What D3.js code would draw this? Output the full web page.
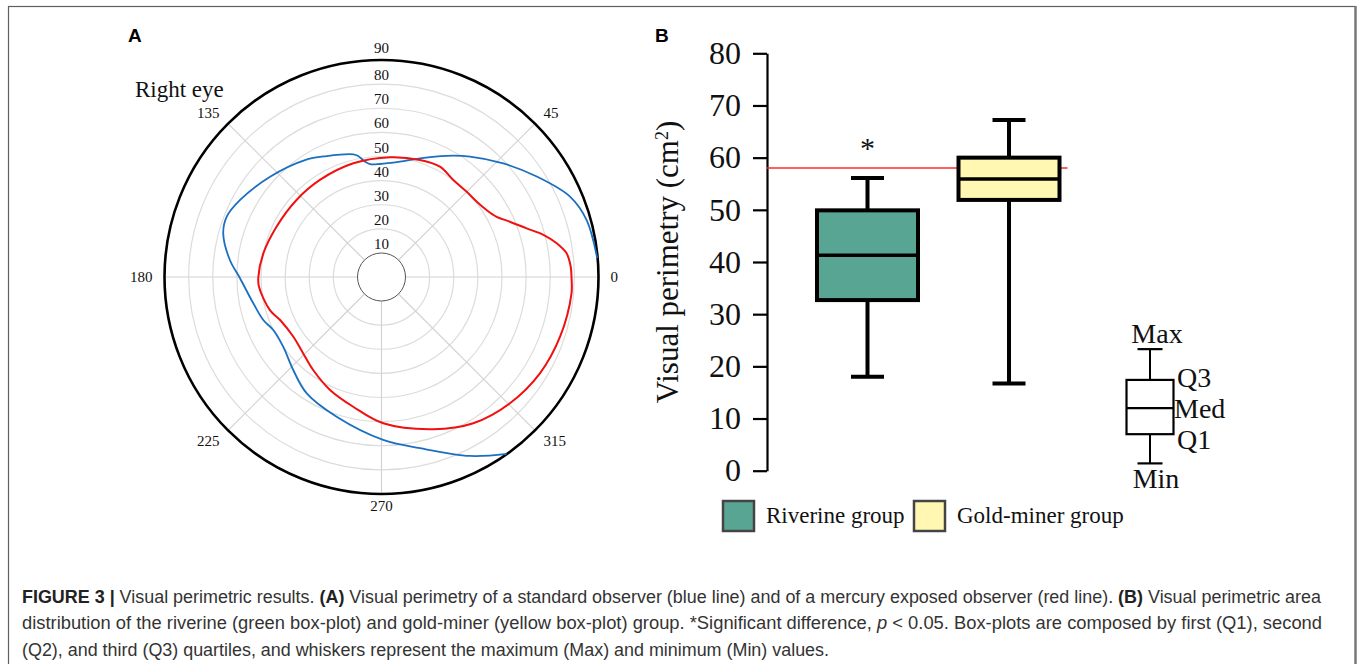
<!DOCTYPE html>
<html>
<head>
<meta charset="utf-8">
<script src="https://cdn.jsdelivr.net/npm/d3@7"></script>
<style>
  html, body { margin: 0; padding: 0; background: #ffffff; }
  svg { display: block; }
</style>
</head>
<body>
<svg id="chart" width="1360" height="664"></svg>
<script>
// ---------------- DATA ----------------
// Panel A: polar perimetry (angle in degrees, counter-clockwise from right; value on radial scale)
const redAngles = [0, 3.1, 7.3, 10.9, 14.6, 18.5, 23.3, 27.6, 32.5, 38.3, 45, 53.5, 62.1, 71.8, 85.9, 103.9, 122.4, 137.8, 154.4, 168.7, 180, 184.6, 196.5, 203, 214, 224.3, 233.7, 245.5, 257.7, 270.7, 288.8, 302.1, 315.5, 328.7, 341.5, 355];
const redValues = [78.8, 78.6, 77.4, 74.0, 69.4, 63.5, 58.0, 53.9, 51.7, 50.4, 50.0, 50.1, 51.8, 51.1, 49.8, 48.6, 47.7, 47.6, 48.3, 50.0, 51.1, 51.0, 48.3, 45.7, 44.2, 45.4, 47.9, 51.5, 55.1, 60.7, 66.7, 71.6, 74.7, 76.9, 78.1, 79.1];
const blueAngles = [5, 15.5, 23.1, 32.9, 43, 53.7, 61.7, 72, 80.9, 90.8, 95.8, 98.1, 100.9, 102.9, 114.4, 123.2, 138, 151.4, 158.7, 164.6, 173.6, 180.5, 191.6, 200, 206.1, 215.4, 226.5, 237.3, 252.2, 270.6, 282.7, 296.3, 305.3];
const blueValues = [89.8, 88.3, 85.0, 76.7, 69.1, 62.0, 57.1, 51.8, 48.5, 46.9, 47.1, 48.3, 51.1, 52.2, 55.1, 58.0, 62.2, 66.8, 68.9, 68.1, 63.3, 58.7, 54.3, 52.2, 50.0, 50.0, 53.2, 57.4, 60.9, 67.6, 72.8, 82.8, 89.9];
const radialTicks = [10, 20, 30, 40, 50, 60, 70, 80];
const gridValues = [20, 30, 40, 50, 60, 70, 80];
const angleTicks = [0, 45, 90, 135, 180, 225, 270, 315];
const spokeAngles = [0, 45, 135, 180, 225, 270, 315];

// Panel B: box plots
const groups = ["Riverine group", "Gold-miner group"];
const boxMin = [18.0, 16.7];
const boxQ1 = [32.7, 51.9];
const boxMed = [41.3, 55.9];
const boxQ3 = [49.9, 60.0];
const boxMax = [56.1, 67.2];
const boxColors = ["#58a594", "#fff7b2"];
const refValue = 58;
const sigMark = ["*", ""];
const yTicks = [0, 10, 20, 30, 40, 50, 60, 70, 80];
const keyStats = [1.4, 7.0, 12.0, 17.4, 23.3];
const keyLabels = ["Min", "Q1", "Med", "Q3", "Max"];

// ---------------- DRAW ----------------
const svg = d3.select("#chart");
const serif = "'Liberation Serif', 'Times New Roman', serif";
const sans = "'Liberation Sans', Arial, sans-serif";

// frame
svg.append("rect").attr("x", 8.5).attr("y", 6.5).attr("width", 1347).attr("height", 720)
  .attr("fill", "#ffffff").attr("stroke", "#5f5f5f").attr("stroke-width", 1.2);
svg.append("line").attr("x1", 1355.5).attr("x2", 1355.5).attr("y1", 6).attr("y2", 664)
  .attr("stroke", "#777").attr("stroke-width", 2.4);

// panel labels
svg.append("text").attr("x", 128).attr("y", 42).text("A")
  .attr("font-family", sans).attr("font-weight", "bold").attr("font-size", 19);
svg.append("text").attr("x", 655).attr("y", 42).text("B")
  .attr("font-family", sans).attr("font-weight", "bold").attr("font-size", 19);

// ---- Panel A ----
const cx = 381.5, cy = 277;
const r = d3.scaleLinear().domain([10, 90]).range([24, 217]);
const gA = svg.append("g").attr("transform", `translate(${cx},${cy})`);
const toRad = a => a * Math.PI / 180;

gA.selectAll("circle.grid").data(gridValues).join("circle").attr("class", "grid")
  .attr("r", d => r(d)).attr("fill", "none").attr("stroke", "#dcdcdc").attr("stroke-width", 1.2);

gA.selectAll("line.spoke").data(spokeAngles).join("line").attr("class", "spoke")
  .attr("x1", d => r(10) * Math.cos(toRad(d))).attr("y1", d => -r(10) * Math.sin(toRad(d)))
  .attr("x2", d => r(90) * Math.cos(toRad(d))).attr("y2", d => -r(90) * Math.sin(toRad(d)))
  .attr("stroke", "#d2d2d2").attr("stroke-width", 1.2);

gA.append("circle").attr("r", r(90)).attr("fill", "none").attr("stroke", "#000").attr("stroke-width", 2.6);
gA.append("circle").attr("r", r(10)).attr("fill", "#fff").attr("stroke", "#555").attr("stroke-width", 1);

const radial = d3.lineRadial()
  .angle(d => toRad(90 - d.a))
  .radius(d => r(d.v));

const redData = redAngles.map((a, i) => ({a, v: redValues[i]}));
const blueData = blueAngles.map((a, i) => ({a, v: blueValues[i]}));

gA.append("path").datum(blueData)
  .attr("d", radial.curve(d3.curveCatmullRom.alpha(0.5)))
  .attr("fill", "none").attr("stroke", "#1a6fc1").attr("stroke-width", 1.8);
gA.append("path").datum(redData)
  .attr("d", radial.curve(d3.curveCatmullRomClosed.alpha(0.5)))
  .attr("fill", "none").attr("stroke", "#f01010").attr("stroke-width", 2);

// radial tick labels (the 90 is shared with the angle label)
gA.selectAll("text.rt").data(radialTicks).join("text").attr("class", "rt")
  .attr("x", 0).attr("y", d => -r(d) - 9)
  .attr("text-anchor", "middle").attr("dominant-baseline", "central")
  .attr("font-family", serif).attr("font-size", 15).attr("fill", "#111")
  .text(d => d);

// angle tick labels
gA.selectAll("text.at").data(angleTicks).join("text").attr("class", "at")
  .attr("x", d => (r(90) + 12) * Math.cos(toRad(d)))
  .attr("y", d => -(r(90) + 12) * Math.sin(toRad(d)) - (Math.abs(Math.sin(toRad(d))) > 0.99 ? 0 : 3 * Math.sin(toRad(d))))
  .attr("text-anchor", d => {
    const c = Math.cos(toRad(d));
    return c > 0.1 ? "start" : (c < -0.1 ? "end" : "middle");
  })
  .attr("dominant-baseline", "central")
  .attr("font-family", serif).attr("font-size", 15).attr("fill", "#111")
  .text(d => d);

svg.append("text").attr("x", 135).attr("y", 97).text("Right eye")
  .attr("font-family", serif).attr("font-size", 23).attr("fill", "#111");

// ---- Panel B ----
const axisX = 767;
const y = d3.scaleLinear().domain([0, 80]).range([470.7, 53.3]);
const x = d3.scalePoint().domain(groups).range([796.75, 1079.75]).padding(0.5);
const boxW = 101, capW = 33;

const gAxis = svg.append("g").attr("transform", `translate(${axisX},0)`)
  .call(d3.axisLeft(y).tickValues(yTicks).tickSize(14).tickSizeOuter(0).tickPadding(12));
gAxis.select(".domain").attr("stroke", "#000").attr("stroke-width", 2.2);
gAxis.selectAll(".tick line").attr("stroke", "#000").attr("stroke-width", 2.2);
gAxis.selectAll(".tick text").attr("font-family", serif).attr("font-size", 32).attr("fill", "#111");

svg.append("text")
  .attr("transform", `translate(678,262) rotate(-90)`)
  .attr("text-anchor", "middle")
  .attr("font-family", serif).attr("font-size", 31).attr("fill", "#111")
  .call(t => {
    t.append("tspan").text("Visual perimetry (cm");
    t.append("tspan").text("2").attr("font-size", 18).attr("baseline-shift", "super");
    t.append("tspan").text(")");
  });

// reference line
svg.append("line").attr("x1", axisX).attr("x2", x(groups[1]) + boxW / 2 + 8)
  .attr("y1", y(refValue)).attr("y2", y(refValue))
  .attr("stroke", "#ff2a2a").attr("stroke-width", 1.5);

const boxes = groups.map((g, i) => ({g, i, min: boxMin[i], q1: boxQ1[i], med: boxMed[i], q3: boxQ3[i], max: boxMax[i], c: boxColors[i], sig: sigMark[i]}));
const gB = svg.append("g");
const bg = gB.selectAll("g.box").data(boxes).join("g").attr("class", "box");
bg.append("line").attr("x1", d => x(d.g)).attr("x2", d => x(d.g))
  .attr("y1", d => y(d.max)).attr("y2", d => y(d.min)).attr("stroke", "#000").attr("stroke-width", 4);
bg.append("line").attr("x1", d => x(d.g) - capW / 2).attr("x2", d => x(d.g) + capW / 2)
  .attr("y1", d => y(d.max)).attr("y2", d => y(d.max)).attr("stroke", "#000").attr("stroke-width", 4);
bg.append("line").attr("x1", d => x(d.g) - capW / 2).attr("x2", d => x(d.g) + capW / 2)
  .attr("y1", d => y(d.min)).attr("y2", d => y(d.min)).attr("stroke", "#000").attr("stroke-width", 4);
bg.append("rect").attr("x", d => x(d.g) - boxW / 2).attr("width", boxW)
  .attr("y", d => y(d.q3)).attr("height", d => y(d.q1) - y(d.q3))
  .attr("fill", d => d.c).attr("stroke", "#000").attr("stroke-width", 4);
bg.append("line").attr("x1", d => x(d.g) - boxW / 2).attr("x2", d => x(d.g) + boxW / 2)
  .attr("y1", d => y(d.med)).attr("y2", d => y(d.med)).attr("stroke", "#000").attr("stroke-width", 3.5);
bg.append("text").attr("x", d => x(d.g)).attr("y", d => y(d.max) - 20)
  .attr("text-anchor", "middle").attr("font-family", serif).attr("font-size", 30).attr("fill", "#111")
  .text(d => d.sig);

// legend
const legX = [723, 914];
const lg = svg.selectAll("g.leg").data(boxes).join("g").attr("class", "leg")
  .attr("transform", (d, i) => `translate(${legX[i]},501)`);
lg.append("rect").attr("width", 31).attr("height", 30).attr("fill", d => d.c)
  .attr("stroke", "#444").attr("stroke-width", 2.5);
lg.append("text").attr("x", 43).attr("y", 22).text(d => d.g)
  .attr("font-family", serif).attr("font-size", 23).attr("fill", "#111");

// key box-plot schematic
const kx = 1150, kW = 47, kCap = 25;
const gK = svg.append("g");
gK.append("line").attr("x1", kx).attr("x2", kx).attr("y1", y(keyStats[4])).attr("y2", y(keyStats[0]))
  .attr("stroke", "#000").attr("stroke-width", 2);
[0, 4].forEach(k => gK.append("line").attr("x1", kx - kCap / 2).attr("x2", kx + kCap / 2)
  .attr("y1", y(keyStats[k])).attr("y2", y(keyStats[k])).attr("stroke", "#000").attr("stroke-width", 2.2));
gK.append("rect").attr("x", kx - kW / 2).attr("width", kW)
  .attr("y", y(keyStats[3])).attr("height", y(keyStats[1]) - y(keyStats[3]))
  .attr("fill", "#fff").attr("stroke", "#000").attr("stroke-width", 2.2);
gK.append("line").attr("x1", kx - kW / 2).attr("x2", kx + kW / 2)
  .attr("y1", y(keyStats[2])).attr("y2", y(keyStats[2])).attr("stroke", "#000").attr("stroke-width", 2.2);
const keyPos = [
  {dx: 6, dy: 25, anchor: "middle"},   // Min
  {dx: 27, dy: 15, anchor: "start"},   // Q1
  {dx: 24, dy: 10, anchor: "start"},   // Med
  {dx: 27, dy: 7, anchor: "start"},    // Q3
  {dx: 7, dy: -6, anchor: "middle"}    // Max
];
gK.selectAll("text").data(keyLabels).join("text")
  .attr("x", (d, i) => kx + keyPos[i].dx)
  .attr("y", (d, i) => y(keyStats[i]) + keyPos[i].dy)
  .attr("text-anchor", (d, i) => keyPos[i].anchor)
  .attr("font-family", serif).attr("font-size", 28).attr("fill", "#111")
  .text(d => d);

// ---- Caption ----
const capLines = [
  {len: 1299, parts: [["FIGURE 3 |", "b"], [" Visual perimetric results. ", ""], ["(A)", "b"], [" Visual perimetry of a standard observer (blue line) and of a mercury exposed observer (red line). ", ""], ["(B)", "b"], [" Visual perimetric area", ""]]},
  {len: 1300, parts: [["distribution of the riverine (green box-plot) and gold-miner (yellow box-plot) group. *Significant difference, ", ""], ["p", "i"], [" < 0.05. Box-plots are composed by first (Q1), second", ""]]},
  {len: 807, parts: [["(Q2), and third (Q3) quartiles, and whiskers represent the maximum (Max) and minimum (Min) values.", ""]]}
];
const capBase = [602.5, 629, 655.5];
capLines.forEach((ln, i) => {
  const t = svg.append("text").attr("x", 22).attr("y", capBase[i])
    .attr("font-family", sans).attr("font-size", 17.5).attr("fill", "#333")
    .attr("textLength", ln.len).attr("lengthAdjust", "spacingAndGlyphs")
    .attr("xml:space", "preserve").style("white-space", "pre");
  ln.parts.forEach(([s, st]) => {
    const ts = t.append("tspan").text(s);
    if (st === "b") ts.attr("font-weight", "bold").attr("fill", "#222");
    if (st === "i") ts.attr("font-style", "italic");
  });
});
</script>
</body>
</html>
